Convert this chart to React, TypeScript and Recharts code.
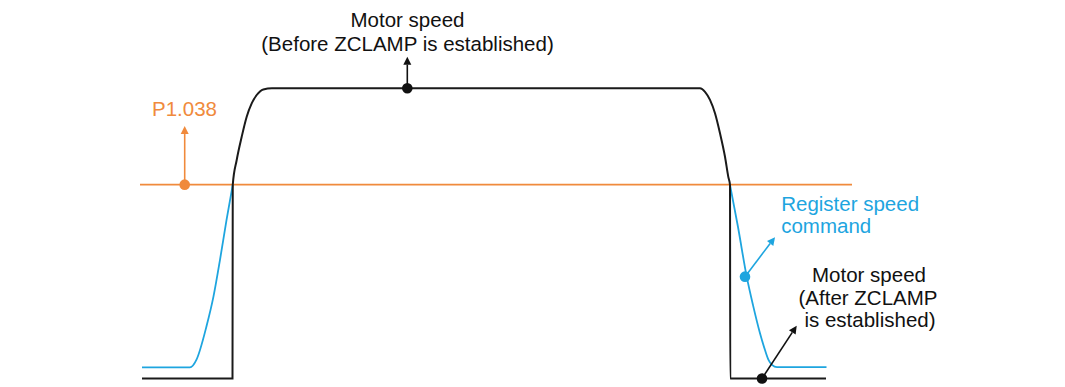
import { LineChart, Line, XAxis, YAxis, ReferenceDot, ReferenceLine } from 'recharts';

// time in ms, speed in % of rated speed
type Pt = { t: number; v: number };

const motorSpeedBefore: Pt[] = [
  { t: 0, v: 0 },
  { t: 18.1, v: 0 },
  { t: 18.15, v: 66.7 },
  { t: 18.94, v: 75.3 },
  { t: 19.94, v: 83.3 },
  { t: 20.94, v: 90.2 },
  { t: 21.94, v: 94.8 },
  { t: 22.94, v: 97.7 },
  { t: 24.26, v: 99.6 },
  { t: 26.0, v: 100 },
  { t: 111.6, v: 100 },
  { t: 112.6, v: 98.8 },
  { t: 113.6, v: 96.0 },
  { t: 114.6, v: 91.4 },
  { t: 115.6, v: 84.5 },
  { t: 116.6, v: 76.4 },
  { t: 117.26, v: 69.5 },
  { t: 117.6, v: 66.7 },
  { t: 117.65, v: 0 },
  { t: 136.8, v: 0 },
];

const commandRise: Pt[] = [
  { t: 0, v: 3.8 },
  { t: 9.6, v: 3.8 },
  { t: 10.9, v: 6.5 },
  { t: 12.9, v: 18.0 },
  { t: 14.3, v: 28.3 },
  { t: 15.6, v: 40.9 },
  { t: 16.9, v: 54.6 },
  { t: 18.15, v: 66.7 },
];

const commandFall: Pt[] = [
  { t: 117.6, v: 66.7 },
  { t: 119.2, v: 52.2 },
  { t: 120.94, v: 35.1 },
  { t: 122.2, v: 25.3 },
  { t: 123.6, v: 15.6 },
  { t: 124.6, v: 9.8 },
  { t: 125.3, v: 6.4 },
  { t: 126.0, v: 4.7 },
  { t: 127.0, v: 3.9 },
  { t: 136.9, v: 3.9 },
];

const clampLevel: Pt[] = [
  { t: -0.4, v: 66.8 },
  { t: 142, v: 66.8 },
];

// dot -> arrow tip
const callouts = [
  { from: { t: 8.54, v: 66.8 }, to: { t: 8.54, v: 87.0 }, color: '#F08A3C' },
  { from: { t: 53.06, v: 100 }, to: { t: 53.06, v: 110.9 }, color: '#111111' },
  { from: { t: 120.6, v: 35.1 }, to: { t: 126.6, v: 48.7 }, color: '#1EA5DF' },
  { from: { t: 124, v: 0 }, to: { t: 130.94, v: 18.2 }, color: '#111111' },
];

const W = 1065;
const H = 387;

const ORANGE = '#F08A3C';
const BLUE = '#1EA5DF';
const BLACK = '#1a1a1a';

function arrowShape(color: string) {
  return (props: any) => {
    const { x1, y1, x2, y2 } = props;
    const dx = x2 - x1;
    const dy = y2 - y1;
    const len = Math.sqrt(dx * dx + dy * dy) || 1;
    const ux = dx / len;
    const uy = dy / len;
    const head = 8;
    const half = 4;
    const bx = x2 - ux * head;
    const by = y2 - uy * head;
    const pts = `${x2},${y2} ${bx - uy * half},${by + ux * half} ${bx + uy * half},${by - ux * half}`;
    return (
      <g>
        <line x1={x1} y1={y1} x2={bx} y2={by} stroke={color} strokeWidth={1.6} />
        <polygon points={pts} fill={color} />
      </g>
    );
  };
}

const font = "'Liberation Sans', Arial, sans-serif";

export default function App() {
  const lineProps = { dataKey: 'v', dot: false, activeDot: false, isAnimationActive: false } as const;
  return (
    <div style={{ position: 'absolute', left: 0, top: 0, width: W, height: H, background: '#fff' }}>
      <LineChart width={W} height={H} margin={{ top: 0, right: 0, bottom: 0, left: 0 }}>
        <XAxis type="number" dataKey="t" domain={[-28.4, 184.6]} allowDataOverflow hide />
        <YAxis type="number" dataKey="v" domain={[-2.929, 130.43]} allowDataOverflow hide />
        <Line {...lineProps} data={clampLevel} type="linear" stroke={ORANGE} strokeWidth={1.6} />
        <Line {...lineProps} data={commandRise} type="monotone" stroke={BLUE} strokeWidth={1.8} />
        <Line {...lineProps} data={commandFall} type="monotone" stroke={BLUE} strokeWidth={1.8} />
        <Line {...lineProps} data={motorSpeedBefore} type="monotone" stroke={BLACK} strokeWidth={2} />
        {callouts.map((c, i) => (
          <ReferenceLine
            key={'a' + i}
            segment={[
              { x: c.from.t, y: c.from.v },
              { x: c.to.t, y: c.to.v },
            ]}
            ifOverflow="visible"
            shape={arrowShape(c.color)}
          />
        ))}
        {callouts.map((c, i) => (
          <ReferenceDot key={'d' + i} x={c.from.t} y={c.from.v} r={5.3} fill={c.color} stroke="none" ifOverflow="visible" />
        ))}
      </LineChart>
      <svg width={W} height={H} style={{ position: 'absolute', left: 0, top: 0, pointerEvents: 'none' }}>
        <g fontFamily={font} fontSize={20.5}>
          <text x={407.5} y={27.3} textAnchor="middle" fill="#111">Motor speed</text>
          <text x={407.5} y={50.7} textAnchor="middle" fill="#111">(Before ZCLAMP is established)</text>
          <text x={152} y={116} fill={ORANGE}>P1.038</text>
          <text x={781.2} y={210.5} fill={BLUE}>Register speed</text>
          <text x={781.2} y={232.5} fill={BLUE}>command</text>
          <text x={869} y={282} textAnchor="middle" fill="#111">Motor speed</text>
          <text x={868} y={304.7} textAnchor="middle" fill="#111">(After ZCLAMP</text>
          <text x={870} y={327} textAnchor="middle" fill="#111">is established)</text>
        </g>
      </svg>
    </div>
  );
}
